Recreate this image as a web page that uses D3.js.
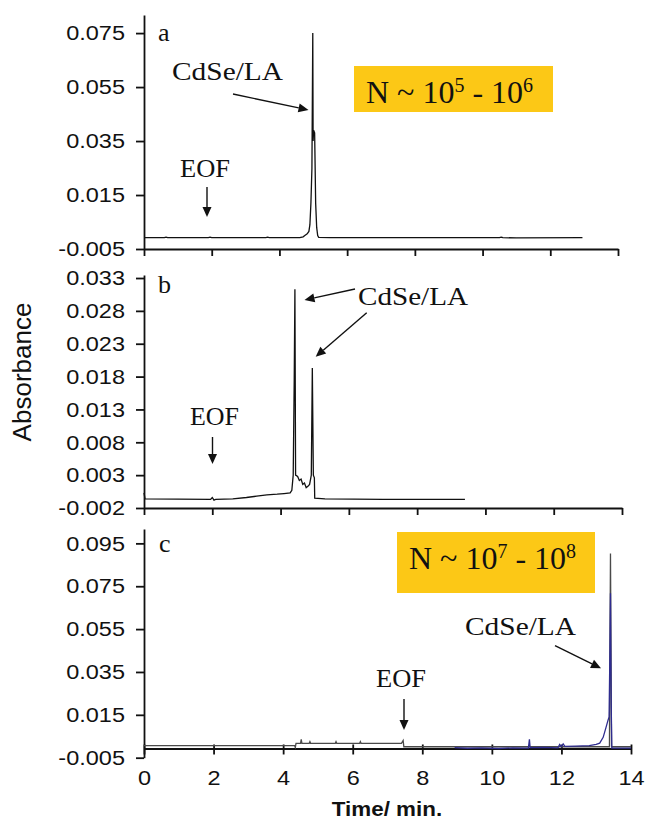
<!DOCTYPE html>
<html>
<head>
<meta charset="utf-8">
<script src="https://cdn.jsdelivr.net/npm/d3@7"></script>
<style>
  body { margin: 0; background: #fff; }
  svg { display: block; }
</style>
</head>
<body>
<div id="fig"></div>
<script>
// ---- donnees (temps en min, absorbance) ----
// panneau a
const timeA = [0, 0.6, 0.65, 0.7, 1.9, 1.95, 2.0, 2.4, 2.9, 3.6, 3.65, 3.7, 4.2, 4.6, 4.7, 4.75, 4.82, 4.87, 4.9, 4.93, 4.96, 4.985, 4.995, 5.01, 5.04, 5.07, 5.1, 5.13, 5.16, 5.5, 6.5, 8.0, 9.5, 10.5, 10.55, 10.6, 11.0, 12.95];
const absA  = [-0.0008, -0.0008, -0.0006, -0.0008, -0.0008, -0.0006, -0.0008, -0.0008, -0.0008, -0.0008, -0.0006, -0.0008, -0.0008, -0.0008, -0.0005, 0.0, 0.0006, 0.0015, 0.004, 0.012, 0.025, 0.075, 0.035, 0.039, 0.038, 0.012, 0.003, 0.0, -0.0007, -0.0008, -0.0008, -0.0008, -0.0008, -0.0008, -0.0006, -0.0008, -0.0009, -0.0008];

// panneau b
const timeB = [0, 0.03, 1.95, 2.0, 2.05, 2.1, 2.6, 3.0, 3.3, 3.6, 3.9, 4.1, 4.28, 4.33, 4.37, 4.4, 4.42, 4.44, 4.5, 4.55, 4.6, 4.65, 4.7, 4.75, 4.8, 4.85, 4.9, 4.93, 4.96, 4.99, 5.0, 5.3, 7.0, 9.4];
const absB  = [0.0003, -0.0006, -0.0007, -0.0004, -0.0008, -0.0007, -0.0006, -0.0004, -0.0002, 0.0, 0.0001, 0.0002, 0.0003, 0.0007, 0.003, 0.0175, 0.0313, 0.003, 0.0028, 0.0022, 0.0024, 0.0016, 0.0018, 0.0011, 0.0013, 0.0016, 0.003, 0.0193, 0.003, 0.0026, -0.0005, -0.0006, -0.0007, -0.0007];

// panneau c, trace noire
const timeC = [0, 4.33, 4.35, 4.37, 4.5, 4.52, 4.54, 4.75, 4.77, 4.79, 5.5, 5.52, 5.54, 6.2, 6.22, 6.24, 7.4, 7.45, 7.47, 13.38, 13.41, 13.44, 14.0];
const absC  = [0.0006, 0.0006, -0.0002, 0.0017, 0.0017, 0.0035, 0.0017, 0.0017, 0.0025, 0.0017, 0.0017, 0.0025, 0.0017, 0.0017, 0.0025, 0.0017, 0.0017, 0.003, 0.0001, 0.0001, 0.0903, 0.0001, 0.0001];

// panneau c, trace bleue
const timeCb = [8.93, 9.3, 9.7, 10.2, 10.6, 11.05, 11.08, 11.1, 11.5, 11.9, 11.95, 12.0, 12.05, 12.1, 12.4, 12.8, 13.0, 13.1, 13.2, 13.28, 13.34, 13.37, 13.39, 13.41, 13.43, 13.45, 14.0];
const absCb  = [-0.0003, -0.0006, -0.0004, -0.0007, -0.0004, -0.0005, 0.0036, -0.0003, -0.0002, -0.0004, 0.0012, 0.0002, 0.0014, 0.0003, 0.0004, 0.0006, 0.0012, 0.0018, 0.0045, 0.009, 0.0125, 0.014, 0.04, 0.0717, 0.02, -0.0005, -0.0005];

// graduations
const ticksYA = [-0.005, 0.015, 0.035, 0.055, 0.075];
const ticksYB = [-0.002, 0.003, 0.008, 0.013, 0.018, 0.023, 0.028, 0.033];
const ticksYC = [-0.005, 0.015, 0.035, 0.055, 0.075, 0.095];
const ticksX  = [0, 2, 4, 6, 8, 10, 12, 14];

/////////////////////////////////////////////////////////

const W = 646, H = 820;
const SX = 1.12;           // le scan est un peu etire en largeur
const sans = "Arial, Helvetica, 'Liberation Sans', sans-serif";
const serif = "'Times New Roman', 'Liberation Serif', serif";
const yellow = "#fcc816";

const svg = d3.select("#fig").append("svg")
  .attr("width", W)
  .attr("height", H);

// defs des 3 panneaux
const panels = [
  {t: timeA, v: absA, x0: 144, x1: 618, yb: 249, yt: 15, dom: [-0.005, 0.0817], ticks: ticksYA, xAt: -0.005, labels: false},
  {t: timeB, v: absB, x0: 144, x1: 622, yb: 508, yt: 275, dom: [-0.002, 0.03346], ticks: ticksYB, xAt: -0.002, labels: false},
  {t: timeC, v: absC, x0: 144, x1: 631, yb: 757.7, yt: 529, dom: [-0.005, 0.1017], ticks: ticksYC, xAt: -0.0007, labels: true}
];

panels.forEach((p, i) => {
  p.x = d3.scaleLinear().domain([0, 14]).range([p.x0, p.x1]);
  p.y = d3.scaleLinear().domain(p.dom).range([p.yb, p.yt]);
  const g = svg.append("g");

  // axe Y
  const ay = g.append("g")
    .attr("transform", `translate(${p.x0},0)`)
    .call(d3.axisLeft(p.y).tickValues(p.ticks).tickSize(8).tickSizeOuter(0).tickPadding(9)
      .tickFormat(d => d.toFixed(3)));
  ay.selectAll("text")
    .attr("transform", `scale(${SX},1)`)
    .style("font-family", sans).style("font-size", "21px").style("fill", "#111");

  // axe X
  const ax = g.append("g")
    .attr("transform", `translate(0,${p.y(p.xAt)})`)
    .call(d3.axisBottom(p.x).tickValues(ticksX).tickSize(7).tickSizeOuter(0).tickPadding(15)
      .tickFormat(p.labels ? d3.format("d") : ""));
  if (p.labels) {
    ax.selectAll(".tick line").attr("y1", -4).attr("y2", 6);
    ax.selectAll("text")
      .attr("transform", `scale(${SX},1)`)
      .style("font-family", sans).style("font-size", "21px").style("fill", "#111");
  }

  [ay, ax].forEach(a => {
    a.select(".domain").attr("stroke", "#111").attr("stroke-width", 1.8);
    a.selectAll(".tick line").attr("stroke", "#111").attr("stroke-width", 1.8);
  });

  // trace
  const line = d3.line().x((d, k) => p.x(p.t[k])).y(d => p.y(d));
  g.append("path")
    .attr("d", line(p.v))
    .attr("fill", "none")
    .attr("stroke", i == 2 ? "#4a4a4a" : "#111")
    .attr("stroke-width", 1.3);

  if (i == 2) {
    const lineB = d3.line().x((d, k) => p.x(timeCb[k])).y(d => p.y(d));
    g.append("path")
      .attr("d", lineB(absCb))
      .attr("fill", "none")
      .attr("stroke", "#2f2c8f")
      .attr("stroke-width", 1.3);
  }
});

/////////////////////////////////////////////////////////
// annotations

function txt(s, x, y, size, fam, len) {
  const t = svg.append("text")
    .attr("x", x).attr("y", y)
    .style("font-family", fam)
    .style("font-size", size + "px")
    .style("fill", "#111")
    .text(s);
  if (len) t.attr("textLength", len).attr("lengthAdjust", "spacingAndGlyphs");
  return t;
}

function arrow(x1, y1, x2, y2) {
  const a = Math.atan2(y2 - y1, x2 - x1), L = 10, w = 4.5;
  const bx = x2 - L * Math.cos(a), by = y2 - L * Math.sin(a);
  svg.append("line")
    .attr("x1", x1).attr("y1", y1).attr("x2", bx).attr("y2", by)
    .attr("stroke", "#111").attr("stroke-width", 1.4);
  svg.append("polygon")
    .attr("points", [
      [x2, y2],
      [bx + w * Math.sin(a), by - w * Math.cos(a)],
      [bx - w * Math.sin(a), by + w * Math.cos(a)]
    ].map(q => q.join(",")).join(" "))
    .attr("fill", "#111");
}

function nBox(x, y, w, h, tx, ty, e1, e2) {
  svg.append("rect").attr("x", x).attr("y", y).attr("width", w).attr("height", h).attr("fill", yellow);
  const t = svg.append("text")
    .attr("x", tx).attr("y", ty)
    .style("font-family", serif).style("font-size", "32px").style("fill", "#111");
  t.append("tspan").text("N ~ 10");
  t.append("tspan").attr("dy", -11).style("font-size", "20px").text(e1);
  t.append("tspan").attr("dy", 11).text(" - 10");
  t.append("tspan").attr("dy", -11).style("font-size", "20px").text(e2);
}

// a
txt("a", 158, 40.7, 26, serif);
txt("CdSe/LA", 172, 80, 25, serif, 111);
arrow(233, 94, 308.5, 110);
txt("EOF", 180, 176.7, 25, serif, 50);
arrow(207, 187, 207, 217);
nBox(354, 66, 199, 46, 366, 103.3, "5", "6");

// b
txt("b", 158, 293, 26, serif);
txt("CdSe/LA", 358, 305, 25, serif, 110);
arrow(355, 289, 304.5, 300);
arrow(366.7, 312.7, 315.7, 356.7);
txt("EOF", 190, 425, 25, serif, 49);
arrow(212.5, 437, 212.5, 464);

// c
txt("c", 159, 552, 26, serif);
nBox(397, 532, 198, 61, 409, 569, "7", "8");
txt("CdSe/LA", 465, 635, 25, serif, 111);
arrow(555, 645.7, 601, 668.3);
txt("EOF", 376, 687.3, 25, serif, 50);
arrow(404, 699, 404, 730);

// titres d'axes
svg.append("text")
  .attr("transform", `translate(387,816) scale(${SX},1)`)
  .attr("text-anchor", "middle")
  .style("font-family", sans).style("font-size", "20px").style("font-weight", "bold").style("fill", "#111")
  .text("Time/ min.");

svg.append("text")
  .attr("transform", "translate(31,372) rotate(-90)")
  .attr("text-anchor", "middle")
  .style("font-family", sans).style("font-size", "26px").style("fill", "#111")
  .text("Absorbance");
</script>
</body>
</html>
